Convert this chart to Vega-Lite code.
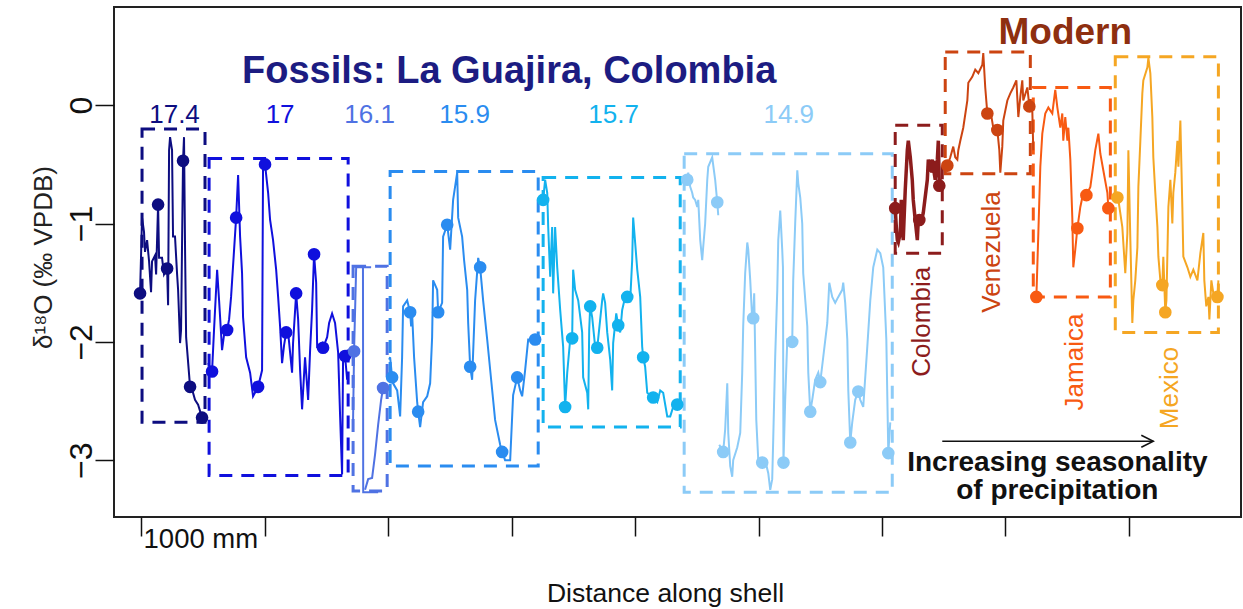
{
  "$schema": "https://vega.github.io/schema/vega-lite/v6.json",
  "width": 1127,
  "height": 510,
  "autosize": "none",
  "padding": {"left": 114, "top": 7, "right": 2, "bottom": 92},
  "config": {
    "view": {"stroke": "#222222", "strokeWidth": 2},
    "font": "Liberation Sans",
    "text": {"font": "Liberation Sans"}
  },
  "datasets": {
    "lines": [
      {"s": "17.4", "g": "a", "x": [-8,8,24,32,49,65,81,89,113,122,138,146,170,186,211,219,227,235,251,259,275,292,300,316,324,332,340,348,356,365,397,413,437,462,494,518], "y": [-1.59,-0.95,-1.07,-1.24,-1.14,-1.32,-1.58,-1.32,-1.27,-1.43,-0.84,-1.29,-1.29,-1.43,-1.38,-1.69,-0.38,-0.27,-0.38,-1.11,-1.11,-1.43,-1.56,-2.01,-1.90,-1.18,-0.47,-0.27,-1.18,-1.96,-2.38,-2.40,-2.49,-2.53,-2.64,-2.66]},
      {"s": "17", "g": "a", "x": [543,575,591,616,632,640,656,672,697,713,729,770,786,802,818,826,851,883,907,948,980,988,1004,1029,1045,1069,1094,1110,1126,1142,1158,1175,1191,1223,1231,1256,1272,1288,1304,1328,1353,1369,1385,1401,1418,1426,1466,1474,1507,1523,1547,1571,1596,1612,1628,1636,1652,1669], "y": [-2.18,-2.25,-1.90,-1.39,-1.65,-1.79,-2.07,-1.94,-1.90,-1.81,-1.62,-0.95,-0.59,-1.11,-1.42,-1.79,-2.13,-2.26,-2.46,-2.38,-2.24,-0.49,-0.50,-0.74,-0.97,-1.14,-1.39,-1.62,-1.87,-2.18,-2.03,-1.92,-1.92,-2.26,-2.01,-1.59,-1.81,-2.24,-2.57,-2.13,-2.49,-2.07,-1.73,-1.26,-1.50,-2.04,-2.01,-2.05,-1.96,-1.84,-1.76,-1.84,-2.09,-2.63,-3.12,-2.13,-2.12,-2.32]},
      {"s": "16.1", "g": "a", "x": [1717,1725,1742,1863], "y": [-2.66,-2.08,-1.37,-1.37]},
      {"s": "16.1", "g": "b", "x": [1797,1799,1920], "y": [-1.37,-3.27,-3.27]},
      {"s": "16.1", "g": "c", "x": [1814,1839,1871,1895,1920,1944,1960,1985], "y": [-3.25,-3.16,-3.15,-2.95,-2.70,-2.49,-2.39,-2.35]},
      {"s": "15.9", "g": "a", "x": [2009,2017,2033,2041,2074,2098,2114,2122,2155,2179,2187,2195,2211,2236,2244,2260,2284,2317,2341,2357,2365,2398,2406,2438,2446,2479,2503,2527,2560,2568,2600,2616,2641,2649,2665,2681,2705,2730,2746,2770,2803,2835,2867,2908,2924,2948,2989,3013,3046,3070,3086,3110,3135,3191,3216], "y": [-2.15,-2.13,-2.30,-2.35,-2.41,-2.63,-2.13,-1.70,-1.65,-1.75,-1.87,-1.76,-2.13,-2.51,-2.59,-2.72,-2.51,-2.46,-2.35,-1.96,-1.48,-1.56,-1.75,-1.67,-1.11,-1.01,-1.22,-0.80,-0.57,-0.95,-1.11,-1.31,-1.56,-1.84,-2.21,-2.32,-1.65,-1.29,-1.37,-1.65,-1.98,-2.32,-2.66,-2.87,-2.93,-3.00,-3.00,-2.45,-2.30,-2.41,-2.46,-2.24,-1.98,-1.98,-1.94]},
      {"s": "15.7", "g": "a", "x": [3256,3272,3289,3297,3313,3329,3337,3353,3370,3394,3418,3434,3451,3475,3491,3499,3515,3540,3572,3580,3613,3621,3629,3637,3653,3677,3694,3718,3734,3742,3758,3775,3799,3815,3823,3848,3864,3880,3896,3920,3937,3961,3977,3985,4001,4018,4042,4058,4066,4082,4099,4147,4180,4204,4228,4261,4285,4309,4342], "y": [-0.80,-0.63,-0.74,-1.03,-1.45,-1.03,-1.59,-1.03,-1.37,-1.73,-2.04,-2.55,-2.26,-1.98,-1.97,-1.39,-1.56,-1.65,-1.92,-2.30,-2.43,-2.57,-1.90,-1.70,-1.79,-2.04,-2.05,-1.81,-1.65,-1.59,-1.67,-1.92,-2.15,-2.41,-2.01,-1.76,-1.86,-1.92,-1.73,-1.62,-1.62,-1.65,-1.31,-0.95,-1.16,-1.39,-1.62,-2.04,-2.13,-2.21,-2.43,-2.47,-2.51,-2.41,-2.43,-2.63,-2.63,-2.55,-2.53]},
      {"s": "14.9", "g": "a", "x": [4423,4431,4447,4463,4471,4487,4504,4512,4528,4544,4552,4568,4585,4593,4625,4649,4666,4674], "y": [-0.63,-0.57,-0.69,-0.74,-0.78,-0.80,-0.86,-0.80,-1.14,-1.31,-1.20,-1.00,-0.63,-0.52,-0.44,-0.63,-0.82,-0.93]},
      {"s": "14.9", "g": "b", "x": [4682,4714,4730,4747,4755,4771,4787,4795,4828,4852,4868,4876,4892,4909,4917,4933,4949,4957,4965,4982,4998,5030,5054,5079,5095,5111,5119,5135,5152,5160,5176,5192,5198,5202,5216,5233,5273,5281,5297,5314,5322,5338,5354,5362,5395,5403,5419,5435,5459,5484,5500,5524,5557,5573,5597,5621,5646,5678,5686,5702,5719,5727,5743,5759,5783,5808,5824,5848,5881,5905,5929,5962,5986,6010,6035,6051,6067], "y": [-2.87,-2.93,-2.74,-2.35,-2.77,-3.05,-3.14,-3.00,-2.89,-2.77,-2.26,-1.87,-1.42,-1.16,-1.22,-1.48,-1.81,-1.80,-1.59,-2.66,-3.00,-3.02,-3.00,-3.11,-3.25,-3.16,-2.83,-2.13,-1.56,-1.14,-0.89,-1.22,-1.37,-3.02,-2.49,-1.98,-2.00,-1.48,-1.00,-0.55,-0.66,-0.78,-1.00,-1.42,-1.87,-2.26,-2.59,-2.49,-2.32,-2.26,-2.34,-2.13,-1.84,-1.50,-1.62,-1.67,-1.62,-1.56,-1.50,-1.67,-1.98,-2.41,-2.85,-2.68,-2.49,-2.42,-2.49,-2.55,-2.04,-1.65,-1.37,-1.22,-1.25,-1.37,-1.98,-2.94,-2.68]},
      {"s": "Colombia", "g": "a", "x": [6091,6107,6116,6124,6132,6148,6156,6164,6172,6188,6205,6213,6229,6245,6253,6269,6286,6294,6302,6326,6334,6367,6375,6391,6407,6415,6431,6448,6456,6464,6472,6488], "y": [-0.86,-0.87,-1.03,-1.14,-1.16,-1.08,-0.80,-1.03,-1.14,-0.72,-0.38,-0.30,-0.44,-0.63,-0.80,-0.97,-1.14,-0.97,-0.97,-0.95,-0.91,-0.63,-0.46,-0.52,-0.46,-0.52,-0.63,-0.46,-0.30,-0.68,-0.63,-0.69]},
      {"s": "Venezuela", "g": "a", "x": [6529,6553,6577,6593,6610,6618,6634,6658,6691,6699,6731,6755,6780,6812,6820,6836,6853,6877,6901,6934,6950,6958,6974,6982,7015,7039,7063,7088,7104,7120,7136,7144,7177,7193,7217,7225], "y": [-0.51,-0.44,-0.35,-0.44,-0.46,-0.38,-0.30,-0.19,0.04,0.19,0.24,0.30,0.27,0.34,0.44,0.15,-0.07,-0.04,-0.19,-0.21,-0.38,-0.57,-0.35,-0.13,0.04,0.10,0.15,0.21,-0.10,0.07,0.21,0.04,0.15,-0.01,-0.04,-0.38]},
      {"s": "Jamaica", "g": "a", "x": [7250,7266,7282,7298,7322,7347,7379,7403,7420,7444,7460,7468,7484,7501,7509,7525,7541,7549,7565,7582,7606,7630,7655,7687,7703,7727,7752,7768,7792,7825,7833], "y": [-1.62,-1.08,-0.52,-0.24,-0.07,-0.02,-0.07,0.13,-0.02,-0.19,-0.07,-0.30,-0.10,-0.30,-0.19,-0.46,-0.95,-1.37,-1.22,-1.04,-0.86,-0.74,-0.76,-0.69,-0.57,-0.38,-0.24,-0.41,-0.55,-0.74,-0.87]},
      {"s": "Mexico", "g": "a", "x": [7906,7914,7946,7970,7987,7995,8011,8027,8035,8051,8068,8076,8092,8108,8116,8149,8157,8173,8189,8197,8213,8230,8238,8254,8270,8278,8294,8303,8319,8335,8351,8359,8375,8392,8400,8416,8432,8440,8473,8497,8521,8554,8578,8602,8610,8626,8643,8651,8667,8692,8716,8724], "y": [-0.78,-0.80,-1.03,-1.42,-1.08,-0.38,-1.14,-1.84,-1.65,-1.48,-1.20,-0.69,-0.30,0.10,0.21,0.32,0.40,0.27,-0.10,-0.44,-0.74,-1.03,-1.28,-1.48,-1.52,-1.28,-1.75,-1.65,-0.86,-0.63,-1.00,-0.74,-0.57,-0.30,-0.52,-0.13,-0.86,-1.28,-1.37,-1.45,-1.39,-1.48,-1.25,-1.08,-1.48,-1.70,-1.62,-1.81,-1.48,-1.65,-1.62,-1.48]}
    ],
    "pts": [
      {"s": "17.4", "x": [-8,138,211,340,397,494], "y": [-1.59,-0.84,-1.38,-0.47,-2.38,-2.64]},
      {"s": "17", "x": [575,697,770,948,1004,1175,1256,1401,1474,1652], "y": [-2.25,-1.90,-0.95,-2.38,-0.50,-1.92,-1.59,-1.26,-2.05,-2.12]},
      {"s": "16.1", "x": [1725,1960], "y": [-2.08,-2.39]},
      {"s": "15.9", "x": [2033,2179,2244,2406,2479,2665,2746,2924,3046,3191], "y": [-2.30,-1.75,-2.59,-1.75,-1.01,-2.21,-1.37,-2.93,-2.30,-1.98]},
      {"s": "15.7", "x": [3256,3434,3491,3637,3694,3864,3937,4066,4147,4342], "y": [-0.80,-2.55,-1.97,-1.70,-2.05,-1.86,-1.62,-2.13,-2.47,-2.53]},
      {"s": "14.9", "x": [4423,4666,4714,4957,5030,5202,5273,5419,5500,5743,5808,6051], "y": [-0.63,-0.82,-2.93,-1.80,-3.02,-3.02,-2.00,-2.59,-2.34,-2.85,-2.42,-2.94]},
      {"s": "Colombia", "x": [6107,6302,6415,6464], "y": [-0.87,-0.97,-0.52,-0.68]},
      {"s": "Venezuela", "x": [6529,6853,6934,7193], "y": [-0.51,-0.07,-0.21,-0.01]},
      {"s": "Jamaica", "x": [7250,7582,7655,7833], "y": [-1.62,-1.04,-0.76,-0.87]},
      {"s": "Mexico", "x": [7906,8270,8294,8716], "y": [-0.78,-1.52,-1.75,-1.62]}
    ],
    "boxes": [
      {"s": "17.4", "x": 8, "x2": 518, "y": -0.20, "y2": -2.68},
      {"s": "17", "x": 551, "x2": 1677, "y": -0.45, "y2": -3.13},
      {"s": "16.1", "x": 1717, "x2": 1993, "y": -1.36, "y2": -3.26},
      {"s": "15.9", "x": 2017, "x2": 3216, "y": -0.56, "y2": -3.05},
      {"s": "15.7", "x": 3256, "x2": 4366, "y": -0.61, "y2": -2.72},
      {"s": "14.9", "x": 4398, "x2": 6083, "y": -0.41, "y2": -3.27},
      {"s": "Colombia", "x": 6107, "x2": 6488, "y": -0.17, "y2": -1.25},
      {"s": "Venezuela", "x": 6512, "x2": 7201, "y": 0.45, "y2": -0.58},
      {"s": "Jamaica", "x": 7225, "x2": 7849, "y": 0.15, "y2": -1.62},
      {"s": "Mexico", "x": 7889, "x2": 8724, "y": 0.41, "y2": -1.92}
    ],
    "nums": [
      {"s": "17.4", "t": "17.4", "x": 271, "y": -0.15},
      {"s": "17", "t": "17", "x": 1126, "y": -0.15},
      {"s": "16.1", "t": "16.1", "x": 1851, "y": -0.15},
      {"s": "15.9", "t": "15.9", "x": 2620, "y": -0.15},
      {"s": "15.7", "t": "15.7", "x": 3827, "y": -0.15},
      {"s": "14.9", "t": "14.9", "x": 5245, "y": -0.15}
    ],
    "countries": [
      {"s": "Colombia", "t": "Colombia", "x": 6326, "y": -1.83},
      {"s": "Venezuela", "t": "Venezuela", "x": 6893, "y": -1.24},
      {"s": "Jamaica", "t": "Jamaica", "x": 7565, "y": -2.17},
      {"s": "Mexico", "t": "Mexico", "x": 8335, "y": -2.39}
    ]
  },
  "encoding": {
    "x": {"field": "x", "type": "quantitative", "scale": {"domain": [-219, 8907], "nice": false, "zero": false},
      "axis": {"values": [0,1000,2000,3000,4000,5000,6000,7000,8000], "domain": false, "grid": false, "tickSize": 19, "tickWidth": 1.5, "tickColor": "#111111",
        "labelExpr": "datum.value == 0 ? '1000 mm' : ''", "labelAlign": "left", "labelBaseline": "alphabetic", "labelPadding": 11, "labelOffset": 2,
        "labelFontSize": 27.5, "labelColor": "#111111", "labelFont": "Liberation Sans", "labelFlush": false, "labelOverlap": false, "labelBound": false,
        "title": "Distance along shell", "titleFontSize": 26.5, "titleFontWeight": "normal", "titleFont": "Liberation Sans", "titleColor": "#111111",
        "titleX": 551, "titleY": 84, "titleBaseline": "alphabetic", "titleAlign": "center"}},
    "y": {"field": "y", "type": "quantitative", "scale": {"domain": [-3.48, 0.83], "nice": false, "zero": false},
      "axis": {"values": [0, -1, -2, -3], "domain": false, "grid": false, "tickSize": 19, "tickWidth": 1.5, "tickColor": "#111111",
        "labelAngle": 270, "labelAlign": "center", "labelBaseline": "alphabetic", "labelPadding": 4, "labelFontSize": 32, "labelColor": "#111111", "labelFont": "Liberation Sans",
        "title": "δ¹⁸O (‰ VPDB)", "titleFontSize": 26, "titleFontWeight": "normal", "titleFont": "Liberation Sans", "titleColor": "#222222",
        "titleAngle": 270, "titleX": -63, "titleY": 250, "titleBaseline": "alphabetic", "titleAlign": "center"}}
  },
  "layer": [
    {
      "data": {"name": "boxes"},
      "mark": {"type": "rect", "filled": false, "strokeWidth": 3, "strokeDash": [13, 9]},
      "encoding": {
        "x2": {"field": "x2"},
        "y2": {"field": "y2"},
        "color": {"field": "s", "type": "nominal", "legend": null,
          "scale": {"domain": ["17.4","17","16.1","15.9","15.7","14.9","Colombia","Venezuela","Jamaica","Mexico"],
            "range": ["#0d0d80","#1010dd","#4f72e3","#2a8cf0","#12b2ee","#8ccbf7","#8c1c1c","#cc4411","#f85a12","#f5a623"]}}
      }
    },
    {
      "data": {"name": "lines"},
      "transform": [{"flatten": ["x", "y"]}],
      "mark": {"type": "line", "strokeJoin": "miter"},
      "encoding": {
        "detail": {"field": "g", "type": "nominal"},
        "strokeWidth": {"condition": {"test": "datum.s === 'Colombia'", "value": 3.5}, "value": 2},
        "color": {"field": "s", "type": "nominal", "legend": null,
          "scale": {"domain": ["17.4","17","16.1","15.9","15.7","14.9","Colombia","Venezuela","Jamaica","Mexico"],
            "range": ["#0d0d80","#1010dd","#4f72e3","#2a8cf0","#12b2ee","#8ccbf7","#8c1c1c","#cc4411","#f85a12","#f5a623"]}}
      }
    },
    {
      "data": {"name": "pts"},
      "transform": [{"flatten": ["x", "y"]}],
      "mark": {"type": "circle", "size": 160, "opacity": 1},
      "encoding": {
        "color": {"field": "s", "type": "nominal", "legend": null,
          "scale": {"domain": ["17.4","17","16.1","15.9","15.7","14.9","Colombia","Venezuela","Jamaica","Mexico"],
            "range": ["#0d0d80","#1010dd","#4f72e3","#2a8cf0","#12b2ee","#8ccbf7","#8c1c1c","#cc4411","#f85a12","#f5a623"]}}
      }
    },
    {
      "data": {"name": "nums"},
      "mark": {"type": "text", "fontSize": 26, "align": "center", "baseline": "alphabetic", "font": "Liberation Sans"},
      "encoding": {
        "text": {"field": "t"},
        "color": {"field": "s", "type": "nominal", "legend": null,
          "scale": {"domain": ["17.4","17","16.1","15.9","15.7","14.9","Colombia","Venezuela","Jamaica","Mexico"],
            "range": ["#0d0d80","#1010dd","#4f72e3","#2a8cf0","#12b2ee","#8ccbf7","#8c1c1c","#cc4411","#f85a12","#f5a623"]}}
      }
    },
    {
      "data": {"name": "countries"},
      "mark": {"type": "text", "fontSize": 26, "align": "center", "baseline": "middle", "angle": 270, "font": "Liberation Sans"},
      "encoding": {
        "text": {"field": "t"},
        "color": {"field": "s", "type": "nominal", "legend": null,
          "scale": {"domain": ["17.4","17","16.1","15.9","15.7","14.9","Colombia","Venezuela","Jamaica","Mexico"],
            "range": ["#0d0d80","#1010dd","#4f72e3","#2a8cf0","#12b2ee","#8ccbf7","#8c1c1c","#cc4411","#f85a12","#f5a623"]}}
      }
    },
    {
      "data": {"values": [{"t": "Fossils: La Guajira, Colombia", "x": 818, "y": 0.19}]},
      "mark": {"type": "text", "fontSize": 38, "fontWeight": "bold", "align": "left", "baseline": "alphabetic", "color": "#1c1c82", "font": "Liberation Sans"},
      "encoding": {"text": {"field": "t"}}
    },
    {
      "data": {"values": [{"t": "Modern", "x": 7484, "y": 0.52}]},
      "mark": {"type": "text", "fontSize": 37, "fontWeight": "bold", "align": "center", "baseline": "alphabetic", "color": "#8e2f10", "font": "Liberation Sans"},
      "encoding": {"text": {"field": "t"}}
    },
    {
      "data": {"values": [{"t": "Increasing seasonality", "x": 7420, "y": -3.09}, {"t": "of precipitation", "x": 7420, "y": -3.33}]},
      "mark": {"type": "text", "fontSize": 28, "fontWeight": "bold", "align": "center", "baseline": "alphabetic", "color": "#111111", "font": "Liberation Sans"},
      "encoding": {"text": {"field": "t"}}
    },
    {
      "data": {"values": [{"x": 6488, "x2": 8197, "y": -2.84}]},
      "mark": {"type": "rule", "color": "#111111", "strokeWidth": 1.5},
      "encoding": {"x2": {"field": "x2"}}
    },
    {
      "data": {"values": [{"x": 8197, "y": -2.84}]},
      "mark": {"type": "point", "shape": "M-1,-0.5L0,0L-1,0.5", "filled": false, "size": 576, "color": "#111111", "strokeWidth": 1.5, "opacity": 1},
      "encoding": {}
    }
  ]
}
